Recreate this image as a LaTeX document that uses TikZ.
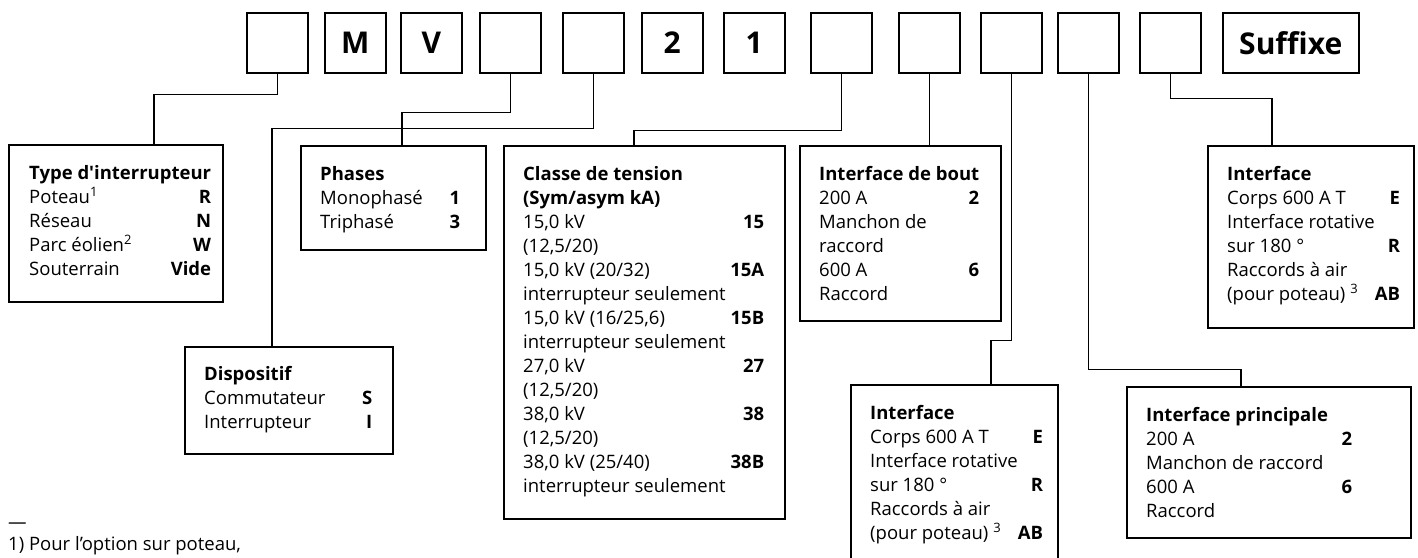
\documentclass[tikz,border=0pt]{standalone}
\usepackage{fontspec}
\setmainfont{Open Sans}
\usetikzlibrary{calc}

\tikzset{
  codecell/.style={draw, line width=1.5pt, anchor=north west, inner sep=0pt,
    minimum width=61pt, minimum height=60pt,
    font=\fontsize{30}{30}\selectfont\bfseries},
  optbox/.style={draw, line width=1.5pt, anchor=north west, inner sep=0pt},
  entries/.style={anchor=base west, inner sep=0pt, font=\fontsize{18.5}{24}\selectfont},
  link/.style={line width=1.5pt}
}

\begin{document}
\begin{tikzpicture}[x=1pt,y=-1pt]
    \useasboundingbox (0,0) rectangle (1418,557);
    \clip (0,0) rectangle (1418,557);

    % Code positions
    \node[codecell] (c1) at (246,12) {};
    \node[codecell] (c2) at (324,12) {M};
    \node[codecell] (c3) at (400,12) {V};
    \node[codecell] (c4) at (479,12) {};
    \node[codecell] (c5) at (562,12) {};
    \node[codecell] (c6) at (641,12) {2};
    \node[codecell] (c7) at (723,12) {1};
    \node[codecell] (c8) at (810,12) {};
    \node[codecell] (c9) at (898,12) {};
    \node[codecell] (c10) at (980,12) {};
    \node[codecell] (c11) at (1057,12) {};
    \node[codecell] (c12) at (1139,12) {};
    \node[codecell, minimum width=136pt] (c13) at (1222,12) {Suffixe};

    % Option boxes
    \node[optbox, minimum width=214pt, minimum height=157pt] (type) at (8,144) {};
    \node[optbox, minimum width=185pt, minimum height=104pt] (phases) at (300,145) {};
    \node[optbox, minimum width=208pt, minimum height=107pt] (disp) at (184,346) {};
    \node[optbox, minimum width=281pt, minimum height=373pt] (classe) at (503,145) {};
    \node[optbox, minimum width=201pt, minimum height=175pt] (bout) at (799,145) {};
    \node[optbox, minimum width=206pt, minimum height=182pt] (inta) at (1207,145) {};
    \node[optbox, minimum width=207pt, minimum height=200pt] (intb) at (850,384) {};
    \node[optbox, minimum width=284pt, minimum height=151pt] (princ) at (1126,386) {};

    % Box contents
    \node[entries] (typetxt) at ([shift={(21,35)}]type.north west) {%
      \begin{tabular*}{173pt}[t]{@{}l@{\extracolsep{\fill}}r@{}}
        \multicolumn{2}{@{}l@{}}{\textbf{Type d\textquotesingle interrupteur}}\\
        Poteau\textsuperscript{1} & \textbf{R}\\
        Réseau & \textbf{N}\\
        Parc éolien\textsuperscript{2} & \textbf{W}\\
        Souterrain & \textbf{Vide}
      \end{tabular*}};
    \node[entries] (phasestxt) at ([shift={(20,35)}]phases.north west) {%
      \begin{tabular*}{140pt}[t]{@{}l@{\extracolsep{\fill}}r@{}}
        \multicolumn{2}{@{}l@{}}{\textbf{Phases}}\\
        Monophasé & \textbf{1}\\
        Triphasé & \textbf{3}
      \end{tabular*}};
    \node[entries] (disptxt) at ([shift={(20,34)}]disp.north west) {%
      \begin{tabular*}{168pt}[t]{@{}l@{\extracolsep{\fill}}r@{}}
        \multicolumn{2}{@{}l@{}}{\textbf{Dispositif}}\\
        Commutateur & \textbf{S}\\
        Interrupteur & \textbf{I}
      \end{tabular*}};
    \node[entries] (classetxt) at ([shift={(20,35)}]classe.north west) {%
      \begin{tabular*}{241pt}[t]{@{}l@{\extracolsep{\fill}}r@{}}
        \multicolumn{2}{@{}l@{}}{\textbf{Classe de tension}}\\
        \multicolumn{2}{@{}l@{}}{\textbf{(Sym/asym kA)}}\\
        15,0 kV & \textbf{15}\\
        (12,5/20) & \\
        15,0 kV (20/32) & \textbf{15A}\\
        interrupteur seulement & \\
        15,0 kV (16/25,6) & \textbf{15B}\\
        interrupteur seulement & \\
        27,0 kV & \textbf{27}\\
        (12,5/20) & \\
        38,0 kV & \textbf{38}\\
        (12,5/20) & \\
        38,0 kV (25/40) & \textbf{38B}\\
        interrupteur seulement &
      \end{tabular*}};
    \node[entries] (bouttxt) at ([shift={(20,35)}]bout.north west) {%
      \begin{tabular*}{160pt}[t]{@{}l@{\extracolsep{\fill}}r@{}}
        \multicolumn{2}{@{}l@{}}{\textbf{Interface de bout}}\\
        200 A & \textbf{2}\\
        Manchon de & \\
        raccord & \\
        600 A & \textbf{6}\\
        Raccord &
      \end{tabular*}};
    \node[entries] (intatxt) at ([shift={(20,35)}]inta.north west) {%
      \begin{tabular*}{165pt}[t]{@{}l@{\extracolsep{\fill}}r@{}}
        \multicolumn{2}{@{}l@{}}{\textbf{Interface}}\\
        Corps 600 A T & \textbf{E}\\
        Interface rotative & \\
        sur 180 ° & \textbf{R}\\
        Raccords à air & \\
        (pour poteau) \textsuperscript{3} & \textbf{AB}
      \end{tabular*}};
    \node[entries] (intbtxt) at ([shift={(20,35)}]intb.north west) {%
      \begin{tabular*}{165pt}[t]{@{}l@{\extracolsep{\fill}}r@{}}
        \multicolumn{2}{@{}l@{}}{\textbf{Interface}}\\
        Corps 600 A T & \textbf{E}\\
        Interface rotative & \\
        sur 180 ° & \textbf{R}\\
        Raccords à air & \\
        (pour poteau) \textsuperscript{3} & \textbf{AB}
      \end{tabular*}};
    \node[entries] (princtxt) at ([shift={(20,35)}]princ.north west) {%
      \begin{tabular*}{206pt}[t]{@{}l@{\extracolsep{\fill}}r@{}}
        \multicolumn{2}{@{}l@{}}{\textbf{Interface principale}}\\
        200 A & \textbf{2}\\
        Manchon de raccord & \\
        600 A & \textbf{6}\\
        Raccord &
      \end{tabular*}};

    % Leader lines
    \draw[link] (c1.south) -- ++(0,21) -| ([xshift=146pt]type.north west);
    \draw[link] (c4.south) -- ++(0,39) -| ([xshift=102pt]phases.north west);
    \draw[link] (c5.south) -- ++(0,55) -| ([xshift=88pt]disp.north west);
    \draw[link] (c8.south) -- ++(0,57) -| ([xshift=131pt]classe.north west);
    \draw[link] (c9.south) -- (c9.south |- bout.north);
    \draw[link] (c10.south) -- ++(0,267) -| ([xshift=141pt]intb.north west);
    \draw[link] (c11.south) -- ++(0,296) -| ([xshift=115pt]princ.north west);
    \draw[link] (c12.south) -- ++(0,25) -| ([xshift=65pt]inta.north west);

    % Footnote
    \node[entries] (dash) at (8,528) {—};
    \node[entries] (note) at (8,550) {1) Pour l’option sur poteau,};
\end{tikzpicture}
\end{document}
